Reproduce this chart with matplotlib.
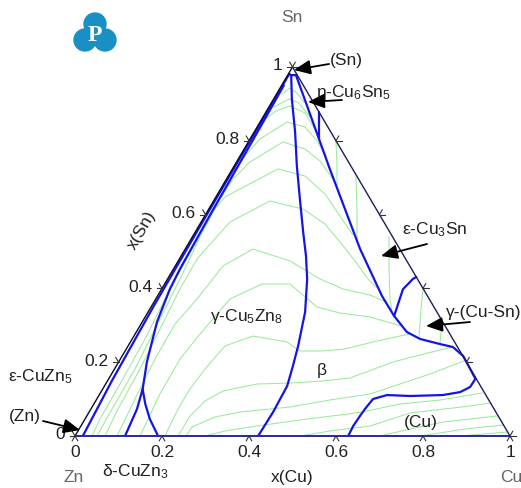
import numpy as np
import matplotlib
matplotlib.use('Agg')
import matplotlib.pyplot as plt
from matplotlib.patches import Ellipse, Polygon

plt.rcParams['font.family'] = ['Liberation Sans', 'DejaVu Sans']
plt.rcParams['mathtext.fontset'] = 'custom'
plt.rcParams['mathtext.rm'] = 'Liberation Sans'
plt.rcParams['mathtext.it'] = 'Liberation Sans'
plt.rcParams['mathtext.default'] = 'regular'

# ---------------- data: compositions (x(Cu), x(Sn)) ----------------
tick_values = [0, 0.2, 0.4, 0.6, 0.8, 1]
tick_labels = ['0', '0.2', '0.4', '0.6', '0.8', '1']

# phase boundaries (blue)
bnd_A = [(0.018, 0.0), (0.010, 0.15), (0.005, 0.35), (0.003, 0.6), (0.002, 0.981)]
bnd_delta_left = [(0.115, 0.0), (0.106, 0.073), (0.092, 0.127)]
bnd_delta_right = [(0.191, 0.0), (0.149, 0.046), (0.118, 0.087), (0.092, 0.127)]
bnd_delta_up = [(0.092, 0.127), (0.065, 0.2005), (0.034, 0.309), (0.019, 0.398),
                (0.015, 0.453), (0.011, 0.6), (0.008, 0.8), (0.005, 0.95)]
bnd_C = [(0.008, 0.978), (0.042, 0.913), (0.094, 0.824), (0.144, 0.732), (0.196, 0.642),
         (0.248, 0.553), (0.287, 0.488), (0.321, 0.4255), (0.361, 0.336), (0.391, 0.244),
         (0.406, 0.190), (0.420, 0.1355), (0.423, 0.065), (0.421, 0.0)]
bnd_D = [(0.019, 0.978), (0.224, 0.7236), (0.402, 0.5068), (0.516, 0.3794), (0.571, 0.3252),
         (0.622, 0.2818), (0.662, 0.2629), (0.714, 0.2493), (0.748, 0.2412), (0.784, 0.2168),
         (0.843, 0.155), (0.842, 0.1328), (0.826, 0.119), (0.790, 0.111), (0.716, 0.1084),
         (0.662, 0.111), (0.635, 0.1003), (0.630, 0.0732), (0.628, 0.0542), (0.626, 0.0271),
         (0.628, 0.0)]
bnd_E = [(0.122, 0.878), (0.1585, 0.805)]
bnd_F = [(0.571, 0.3252), (0.555, 0.398), (0.564, 0.4255), (0.569, 0.431)]
bnd_top = [(0.002, 0.981), (0.008, 0.978), (0.019, 0.978)]

# liquidus isotherms (green)
iso_1 = [(0.0125, 0.927), (0.0228, 0.943), (0.0455, 0.9295), (0.0738, 0.905)]
iso_2 = [(0.0117, 0.8916), (0.0354, 0.9133), (0.0637, 0.9024), (0.108, 0.8645)]
iso_3 = [(0.005, 0.8537), (0.0217, 0.8808), (0.0471, 0.8943), (0.091, 0.8753), (0.146, 0.8211)]
iso_4 = [(0.007, 0.7182), (0.012, 0.7642), (0.0229, 0.8049), (0.0619, 0.8509), (0.110, 0.8374),
         (0.160, 0.7967), (0.194, 0.7615)]
iso_5 = [(0.039, 0.0), (0.0345, 0.0461), (0.033, 0.1409), (0.0295, 0.2629), (0.0192, 0.3984),
         (0.0157, 0.5203), (0.012, 0.6423), (0.015, 0.6965), (0.031, 0.7425), (0.0798, 0.7967),
         (0.140, 0.7778), (0.1906, 0.7453), (0.250, 0.6911)]
iso_6 = [(0.0506, 0.0), (0.0485, 0.0732), (0.0471, 0.1816), (0.0389, 0.290), (0.0287, 0.4255),
         (0.017, 0.5447), (0.0142, 0.6152), (0.021, 0.6477), (0.0446, 0.6694), (0.1049, 0.7236),
         (0.1764, 0.7046), (0.2468, 0.6558), (0.311, 0.5962), (0.3667, 0.5447)]
iso_7 = [(0.069, 0.0), (0.0623, 0.0732), (0.0586, 0.1816), (0.0504, 0.290), (0.0422, 0.3984),
         (0.0407, 0.4797), (0.0663, 0.5799), (0.1299, 0.6369), (0.2165, 0.6152), (0.2874, 0.5745),
         (0.3463, 0.5257), (0.4066, 0.4743), (0.4609, 0.4255), (0.4938, 0.4011)]
iso_8 = [(0.0966, 0.0), (0.0878, 0.1003), (0.0796, 0.2087), (0.0781, 0.3035), (0.0949, 0.3713),
         (0.1098, 0.4607), (0.1558, 0.5068), (0.2572, 0.4743), (0.3505, 0.4255), (0.4169, 0.3984),
         (0.4871, 0.3821), (0.5333, 0.3631)]
iso_8b = [(0.1494, 0.0), (0.1385, 0.1138), (0.137, 0.2087), (0.1492, 0.2764), (0.1707, 0.3713),
          (0.2239, 0.4119), (0.2883, 0.4119), (0.3815, 0.3496), (0.4425, 0.3333), (0.517, 0.3225),
          (0.601, 0.298)]
iso_9 = [(0.2069, 0.0), (0.2002, 0.0732), (0.2007, 0.1274), (0.2081, 0.1816), (0.2228, 0.2439),
         (0.2737, 0.271), (0.36, 0.2547), (0.402, 0.2304), (0.4549, 0.2304), (0.5028, 0.2358),
         (0.5656, 0.2575), (0.630, 0.2764)]
iso_10 = [(0.2368, 0.0), (0.2373, 0.0542), (0.2515, 0.0949), (0.2792, 0.122), (0.3479, 0.1409),
          (0.4225, 0.1436), (0.4956, 0.149), (0.5536, 0.1572), (0.6307, 0.2005), (0.6833, 0.2195),
          (0.7226, 0.2331), (0.7461, 0.2412)]
iso_11 = [(0.2552, 0.0), (0.2568, 0.0244), (0.2961, 0.0515), (0.3468, 0.065), (0.455, 0.0786),
          (0.5374, 0.0976), (0.6213, 0.1138), (0.6766, 0.1409), (0.7321, 0.168), (0.792, 0.2033)]
iso_12 = [(0.2989, 0.0), (0.338, 0.0136), (0.4048, 0.0271), (0.5103, 0.0461), (0.5807, 0.0569),
          (0.6273, 0.065), (0.7037, 0.0867), (0.7903, 0.0976), (0.8524, 0.1111), (0.8773, 0.1165)]
iso_14 = [(0.5172, 0.0), (0.5794, 0.0136), (0.6646, 0.0271), (0.739, 0.0623), (0.8673, 0.0813),
          (0.9093, 0.0894)]
iso_c2 = [(0.7011, 0.0), (0.7606, 0.019), (0.827, 0.0379), (0.943, 0.0542)]
iso_c3 = [(0.7931, 0.0), (0.8871, 0.019), (0.969, 0.0298)]
iso_c4 = [(0.885, 0.0), (0.9877, 0.0108)]
iso_e1 = [(0.4522, 0.5393), (0.4955, 0.4526), (0.5385, 0.3713), (0.5607, 0.336)]
iso_e2 = [(0.295, 0.7019), (0.3407, 0.6152), (0.3814, 0.5339)]
iso_e3 = [(0.2016, 0.7967), (0.2337, 0.7371), (0.2649, 0.6748)]
iso_g1 = [(0.6008, 0.3984), (0.6233, 0.3442), (0.658, 0.2656)]
iso_g2 = [(0.6892, 0.3089), (0.7131, 0.252)]

boundaries = [bnd_A, bnd_delta_left, bnd_delta_right, bnd_delta_up, bnd_C, bnd_D,
              bnd_E, bnd_F, bnd_top]
isotherms = [iso_1, iso_2, iso_3, iso_4, iso_5, iso_6, iso_7, iso_8, iso_8b, iso_9,
             iso_10, iso_11, iso_12, iso_14, iso_c2, iso_c3, iso_c4,
             iso_e1, iso_e2, iso_e3, iso_g1, iso_g2]

# ---------------- layout ----------------
PXX, PXY = 435.0, 369.0     # pixels per unit in X and Y
FS = 12.5


def tri(pts):
    a = np.asarray(pts, dtype=float)
    c, s = a[:, 0], a[:, 1]
    return c + s / 2.0, s


def P(x, y):
    return ((x - 75) / PXX, (437 - y) / PXY)


fig = plt.figure(figsize=(5.21, 4.89), dpi=100)
ax = fig.add_axes([0, 0, 1, 1])
ax.set_xlim(-75 / PXX, 446 / PXX)
ax.set_ylim(-52 / PXY, 437 / PXY)
ax.axis('off')

green = '#9aea9a'
blue = '#1414e6'

for iso in isotherms:
    X, Y = tri(iso)
    ax.plot(X, Y, color=green, lw=0.75, zorder=2)

for b in boundaries:
    X, Y = tri(b)
    ax.plot(X, Y, color=blue, lw=1.6, zorder=3, solid_capstyle='round')

# triangle edges
ax.plot([0, 0.5], [0, 1], color='#0a0a2a', lw=1.0, zorder=4)
ax.plot([0.5, 1], [1, 0], color='#1c1c60', lw=1.0, zorder=4)
ax.plot([0, 1], [0, 0], color='#2a2a90', lw=1.4, zorder=4)

# ticks
L = 5.5


def tick(x0, y0, angles):
    for a in angles:
        r = np.deg2rad(a)
        ax.plot([x0, x0 + L * np.cos(r) / PXX], [y0, y0 + L * np.sin(r) / PXY],
                color='#333333', lw=0.8, zorder=5)


for v, lab in zip(tick_values, tick_labels):
    # bottom axis: x(Cu)
    bx, by = tri([(v, 0)])
    tick(bx[0], by[0], [240, 300])
    ax.text(bx[0], by[0] - 16 / PXY, lab, ha='center', va='center', fontsize=FS, color='#222222')
    # left axis: x(Sn)
    lx, ly = tri([(0, v)])
    tick(lx[0], ly[0], [120, 180])
    ax.text(lx[0] - 10 / PXX, ly[0] + 2 / PXY, lab, ha='right', va='center', fontsize=FS,
            color='#222222')
    # right axis
    rx, ry = tri([(1 - v, v)])
    tick(rx[0], ry[0], [0, 60])

# axis / corner labels
ax.text(*P(292, 478), 'x(Cu)', ha='center', va='center', fontsize=FS, color='#222222')
ax.text(*P(142, 230), 'x(Sn)', ha='center', va='center', fontsize=FS, color='#222222',
        rotation=60)
ax.text(*P(74, 478), 'Zn', ha='center', va='center', fontsize=FS, color='#666666')
ax.text(*P(511, 478), 'Cu', ha='center', va='center', fontsize=FS, color='#666666')
ax.text(*P(292, 18), 'Sn', ha='center', va='center', fontsize=FS, color='#666666')

# phase labels
lab_kw = dict(ha='center', va='center', fontsize=FS, color='#222222', zorder=6)
ax.text(*P(346, 60), '(Sn)', **lab_kw)
ax.text(*P(353, 93), 'η-Cu$_6$Sn$_5$', **lab_kw)
ax.text(*P(435, 230), 'ε-Cu$_3$Sn', **lab_kw)
ax.text(*P(484, 312), 'γ-(Cu-Sn)', **lab_kw)
ax.text(*P(246, 317), 'γ-Cu$_5$Zn$_8$', **lab_kw)
ax.text(*P(322, 370), 'β', **lab_kw)
ax.text(*P(421, 423), '(Cu)', **lab_kw)
ax.text(*P(40, 377), 'ε-CuZn$_5$', **lab_kw)
ax.text(*P(25, 417), '(Zn)', **lab_kw)
ax.text(*P(135, 472), 'δ-CuZn$_3$', **lab_kw)

arrow_kw = dict(arrowstyle='-|>,head_length=0.5,head_width=0.22', mutation_scale=20,
                color='black', lw=1.3, shrinkA=0, shrinkB=0)
for tail, head in [((329, 65), (294, 71)), ((342, 101), (308, 103)),
                   ((427, 245), (381, 257)), ((470, 323), (426, 327)),
                   ((43, 422), (80, 431))]:
    ax.annotate('', xy=P(*head), xytext=P(*tail), arrowprops=arrow_kw, zorder=7)

# logo
logo_c = '#1a8fc4'
for cx, cy in [(95, 25), (85, 41), (105, 41)]:
    ax.add_patch(Ellipse(P(cx, cy), 22 / PXX, 22 / PXY, color=logo_c, zorder=8))
ax.add_patch(Polygon([P(95, 24), P(83, 44), P(107, 44)], closed=True, color=logo_c, zorder=8))
ax.text(*P(95, 35), 'P', ha='center', va='center', fontsize=17, color='white',
        family=['Liberation Serif', 'DejaVu Serif'], fontweight='bold', zorder=9)

fig.savefig('out.png', dpi=100)
